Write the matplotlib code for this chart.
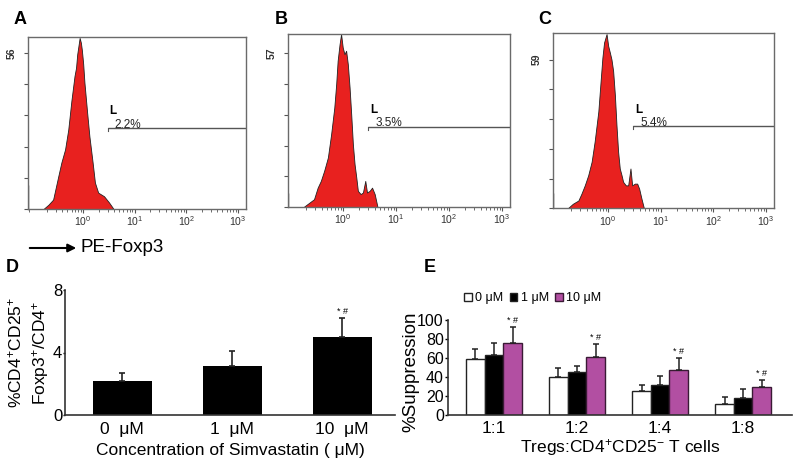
import matplotlib
matplotlib.use('Agg')
import matplotlib.pyplot as plt
from matplotlib.patches import FancyArrowPatch
from matplotlib.ticker import LogLocator, NullFormatter, FixedLocator

plt.rcParams['font.family'] = ['Liberation Sans', 'DejaVu Sans']
plt.rcParams['mathtext.fontset'] = 'custom'
plt.rcParams['mathtext.rm'] = 'Liberation Sans'
plt.rcParams['mathtext.it'] = 'Liberation Sans:italic'
plt.rcParams['mathtext.bf'] = 'Liberation Sans:bold'

# --- flow histograms: PE-Foxp3 intensity vs events ---
fl_a = [0.18, 0.22, 0.27, 0.34, 0.39, 0.46, 0.53, 0.61, 0.70, 0.75, 0.79, 0.83,
        0.88, 0.93, 0.97, 1.03, 1.09, 1.23, 1.36, 1.57, 1.74, 2.01, 2.61, 3.25, 3.93]
cnt_a = [0, 1.4, 3.2, 11.6, 16.5, 21.2, 28.3, 38.7, 47.5, 50.5, 55.3, 58.0,
         61.2, 59.5, 57.0, 52.0, 45.2, 34.4, 25.9, 16.5, 9.3, 5.7, 4.4, 2.2, 0]

fl_b = [0.19, 0.24, 0.29, 0.34, 0.39, 0.45, 0.53, 0.61, 0.70, 0.76, 0.81, 0.88,
        0.94, 1.01, 1.09, 1.17, 1.26, 1.36, 1.46, 1.57, 1.69, 1.82, 1.95, 2.20,
        2.43, 2.69, 2.90, 3.25, 3.61, 4.05, 4.55]
cnt_b = [0, 1.5, 2.7, 7.0, 9.5, 13.2, 18.2, 26.8, 36.7, 45.4, 54.1, 60.2,
         64.0, 59.0, 56.5, 57.8, 52.8, 44.2, 34.2, 23.1, 15.7, 10.8, 5.8, 4.6,
         5.2, 9.5, 5.2, 5.8, 7.0, 4.6, 0]

fl_c = [0.18, 0.22, 0.28, 0.32, 0.37, 0.43, 0.50, 0.57, 0.67, 0.74, 0.80, 0.86,
        0.96, 1.03, 1.11, 1.19, 1.28, 1.38, 1.48, 1.59, 1.71, 1.85, 1.98, 2.23,
        2.47, 2.73, 2.94, 3.30, 3.66, 3.99, 4.42, 4.89]
cnt_c = [0, 1.6, 2.9, 5.6, 8.9, 12.9, 18.3, 26.3, 38.3, 50.3, 59.6, 65.6,
         69.0, 64.3, 61.6, 58.9, 54.3, 44.9, 32.9, 22.3, 15.6, 12.9, 10.3, 8.9,
         8.9, 15.6, 8.9, 9.6, 9.6, 7.6, 3.6, 0]

offscale = [8.6, 5.3, 6.0]
top_tick = [56, 57, 59]
y_top = [61.7, 64.2, 69.6]
gate_start = 3.0
gate_y = [29.1, 29.8, 32.5]
gate_pct = ['2.2%', '3.5%', '5.4%']

# --- D: Tregs after simvastatin ---
conc = ['0  \u03bcM', '1  \u03bcM', '10  \u03bcM']
treg_pct = [2.2, 3.15, 5.0]
treg_err = [0.5, 0.95, 1.2]

# --- E: suppression assay ---
ratios = ['1:1', '1:2', '1:4', '1:8']
supp_0 = [59, 40, 25, 12]
err_0 = [11, 10, 7, 6.5]
supp_1 = [63, 45, 32, 18]
err_1 = [13, 7, 9, 9]
supp_10 = [76, 61, 47, 29.8]
err_10 = [17, 14, 12.6, 7]

W, H = 794, 469
fig = plt.figure(figsize=(W / 100, H / 100), dpi=100)


def box(l, t, r, b):
    return [l / W, 1 - b / H, (r - l) / W, (b - t) / H]


red = '#e8211f'
flows = [(fl_a, cnt_a), (fl_b, cnt_b), (fl_c, cnt_c)]
frames = [(28, 37, 246, 209), (288, 34, 510, 207), (553, 33, 774, 208.3)]
letters = [('A', 20), ('B', 281), ('C', 545)]

for i, ((fl, cnt), fr) in enumerate(zip(flows, frames)):
    ax = fig.add_axes(box(*fr))
    dec = (fr[2] - fr[0] - 63) / 3
    xmin, xmax = 10 ** (-55 / dec), 10 ** (3 + 8 / dec)
    ax.set_xscale('log')
    ax.set_xlim(xmin, xmax)
    ax.set_ylim(0, y_top[i])
    ax.fill(fl, cnt, color=red, lw=0)
    ax.plot(fl, cnt, color='#222222', lw=0.6)
    ax.vlines(xmin * 1.02, 0, offscale[i], color='#333333', lw=1)
    # gate marker
    ax.hlines(gate_y[i], gate_start, xmax, color='#555555', lw=1)
    ax.plot([gate_start, gate_start], [gate_y[i] - 1.2, gate_y[i]], color='#555555', lw=0.8)
    ax.annotate('L', (gate_start, gate_y[i]), xytext=(1.5, 7.5), textcoords='offset points',
                fontsize=8.5, fontweight='bold', va='bottom')
    ax.annotate(gate_pct[i], (gate_start, gate_y[i]), xytext=(5, -2), textcoords='offset points',
                fontsize=8.5, va='bottom', color='#222222')
    for s in ax.spines.values():
        s.set_color('#6a6a6a')
        s.set_linewidth(1)
    ax.xaxis.set_major_locator(FixedLocator([1, 10, 100, 1000]))
    ax.set_xticklabels(['$10^{0}$', '$10^{1}$', '$10^{2}$', '$10^{3}$'], fontsize=7.5, color='#333333')
    ax.xaxis.set_minor_locator(LogLocator(base=10, subs=range(2, 10)))
    ax.xaxis.set_minor_formatter(NullFormatter())
    ax.tick_params(axis='x', which='major', length=3, width=0.8, color='#555555', pad=1)
    ax.tick_params(axis='x', which='minor', length=2, width=0.6, color='#555555')
    yt = [top_tick[i] * k / 5 for k in range(6)]
    ax.set_yticks(yt)
    ax.set_yticklabels([''] * 5 + [str(top_tick[i])], rotation=90, va='center',
                       fontsize=7.5, fontweight='bold', color='#333333')
    ax.tick_params(axis='y', length=3, width=0.8, color='#555555', pad=5)
    fig.text(letters[i][1] / W, 1 - 20 / H, letters[i][0], fontsize=13, fontweight='bold',
             ha='center', va='center')

fig.text(12 / W, 1 - 267 / H, 'D', fontsize=13, fontweight='bold', ha='center', va='center')
fig.text(430 / W, 1 - 267 / H, 'E', fontsize=13, fontweight='bold', ha='center', va='center')

# arrow for the x parameter
fig.add_artist(FancyArrowPatch((27 / W, 1 - 248 / H), (79 / W, 1 - 248 / H),
                               transform=fig.transFigure, arrowstyle='-|>',
                               mutation_scale=12, lw=1.5, color='black'))
fig.text(80 / W, 1 - 248 / H, 'PE-Foxp3', fontsize=13.5, va='center')

# --- panel D ---
axd = fig.add_axes(box(65, 290, 395, 415))
xd = range(len(conc))
axd.bar(xd, treg_pct, width=0.54, color='black',
        yerr=[[0] * len(treg_err), treg_err],
        error_kw=dict(ecolor='#222222', elinewidth=1.2, capsize=2.5, capthick=1.2))
axd.text(2, treg_pct[2] + treg_err[2] + 0.15, '* #', ha='center', va='bottom', fontsize=6.5)
axd.set_xlim(-0.52, 2.48)
axd.set_ylim(0, 8)
axd.set_yticks([0, 4, 8])
axd.set_xticks(list(xd))
axd.set_xticklabels(conc, fontsize=12.5)
axd.tick_params(axis='y', labelsize=12, length=1.5, width=1, pad=0.5)
axd.tick_params(axis='x', length=0, pad=5)
axd.set_xlabel('Concentration of Simvastatin ( \u03bcM)', fontsize=12.5, labelpad=4)
axd.set_ylabel('%CD4$^{+}$CD25$^{+}$\nFoxp3$^{+}$/CD4$^{+}$', fontsize=12.5, linespacing=1.4)
axd.yaxis.set_label_coords(-0.042, 0.5)
for s in ['top', 'right']:
    axd.spines[s].set_visible(False)
for s in ['left', 'bottom']:
    axd.spines[s].set_linewidth(1.2)
    axd.spines[s].set_color('#333333')

# --- panel E ---
axe = fig.add_axes(box(448, 320, 792, 415))
bw = 0.223
ek = dict(ecolor='#222222', elinewidth=1.1, capsize=2.2, capthick=1.1)
g = list(range(len(ratios)))
b0 = axe.bar([x - bw for x in g], supp_0, bw, color='white', edgecolor='#222222', lw=1,
             yerr=[[0] * 4, err_0], error_kw=ek)
b1 = axe.bar(g, supp_1, bw, color='black', edgecolor='#222222', lw=1,
             yerr=[[0] * 4, err_1], error_kw=ek)
b2 = axe.bar([x + bw for x in g], supp_10, bw, color='#b24fa2', edgecolor='#3a1a35', lw=1,
             yerr=[[0] * 4, err_10], error_kw=ek)
for x, v, e in zip(g, supp_10, err_10):
    axe.text(x + bw, v + e + 2, '* #', ha='center', va='bottom', fontsize=6.5)
axe.set_xlim(-0.554, 3.59)
axe.set_ylim(0, 100)
axe.set_yticks(range(0, 101, 20))
axe.set_xticks(g)
axe.set_xticklabels(ratios, fontsize=12.5)
axe.tick_params(axis='y', labelsize=11.5, length=2, width=1, pad=1)
axe.tick_params(axis='x', length=0, pad=4)
axe.set_xlabel('Tregs:CD4$^{+}$CD25$^{-}$ T cells', fontsize=12.5, labelpad=1)
axe.set_ylabel('%Suppression', fontsize=13.5)
axe.yaxis.set_label_coords(-0.082, 0.45)
for s in ['top', 'right']:
    axe.spines[s].set_visible(False)
for s in ['left', 'bottom']:
    axe.spines[s].set_linewidth(1.2)
    axe.spines[s].set_color('#333333')
axe.legend([b0, b1, b2], ['0 \u03bcM', '1 \u03bcM', '10 \u03bcM'], loc='center left',
           bbox_to_anchor=(464 / W, 1 - 298 / H), bbox_transform=fig.transFigure, ncol=3,
           frameon=False, fontsize=9, handlelength=0.6, handleheight=0.6,
           handletextpad=0.3, columnspacing=0.5, borderpad=0, borderaxespad=0)

fig.savefig('out.png', dpi=100)
